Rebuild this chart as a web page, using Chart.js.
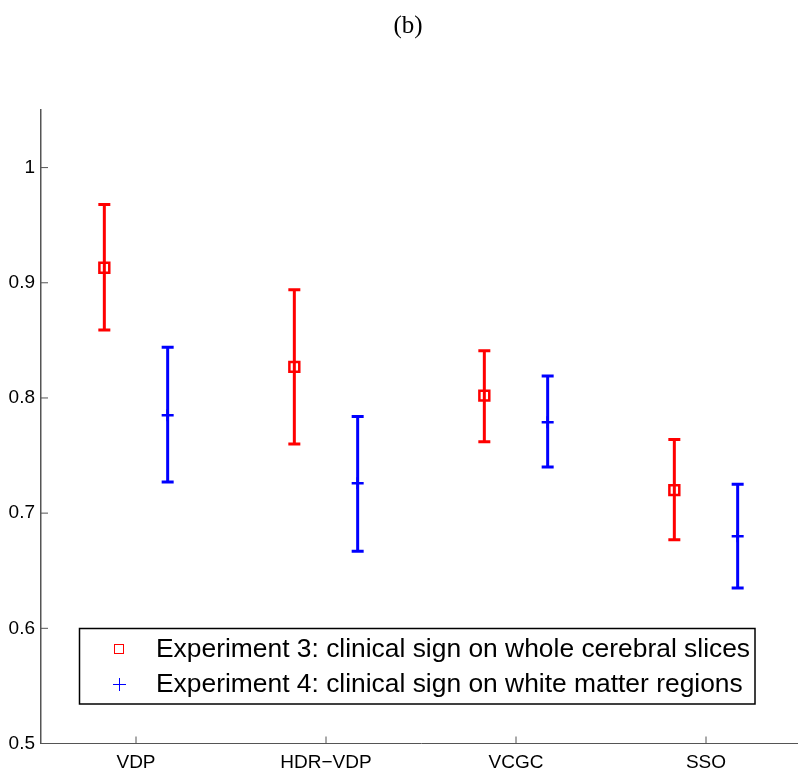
<!DOCTYPE html>
<html>
<head>
<meta charset="utf-8">
<script src="https://cdn.jsdelivr.net/npm/chart.js@4"></script>
<style>
    html, body { margin: 0; padding: 0; background: #fff; overflow: hidden; }
    #wrap { width: 801px; height: 771px; }
</style>
</head>
<body>
<div id="wrap"><canvas id="chart"></canvas></div>
<script>
// ---------------------------------------------
// DATA
// ---------------------------------------------
const metrics = ["VDP", "HDR\u2212VDP", "VCGC", "SSO"];
const yTickValues = [0.5, 0.6, 0.7, 0.8, 0.9, 1];

const exp3Label = "Experiment 3: clinical sign on whole cerebral slices";
const exp3Mean  = [0.913, 0.827, 0.802, 0.720];
const exp3Upper = [0.968, 0.894, 0.841, 0.764];
const exp3Lower = [0.859, 0.760, 0.762, 0.677];

const exp4Label = "Experiment 4: clinical sign on white matter regions";
const exp4Mean  = [0.785, 0.726, 0.779, 0.680];
const exp4Upper = [0.844, 0.784, 0.819, 0.725];
const exp4Lower = [0.727, 0.667, 0.740, 0.635];

// side-by-side shift of the two series around each category
const groupOffset = 1 / 6;

const RED = "#ff0000";
const BLUE = "#0000ff";
const AXIS = "#555";
const FONT = "'Liberation Sans', Arial, Helvetica, sans-serif";

function points(means, lows, highs, shift) {
    return means.map((m, i) => ({ x: i + 1 + shift, y: m, lo: lows[i], hi: highs[i] }));
}

// ---------------------------------------------
// PLUGINS: error bars, inward ticks, title, legend box
// ---------------------------------------------
const errorBars = {
    id: "errorBars",
    beforeDatasetsDraw(chart) {
        const { ctx, scales: { x, y } } = chart;
        chart.data.datasets.forEach(ds => {
            ctx.save();
            ctx.strokeStyle = ds.borderColor;
            ctx.lineWidth = 3;
            ds.data.forEach(p => {
                const px = x.getPixelForValue(p.x);
                const top = y.getPixelForValue(p.hi);
                const bot = y.getPixelForValue(p.lo);
                ctx.beginPath();
                ctx.moveTo(px, top);
                ctx.lineTo(px, bot);
                ctx.moveTo(px - 6, top);
                ctx.lineTo(px + 6, top);
                ctx.moveTo(px - 6, bot);
                ctx.lineTo(px + 6, bot);
                ctx.stroke();
            });
            ctx.restore();
        });
    }
};

const innerTicks = {
    id: "innerTicks",
    afterDraw(chart) {
        const { ctx, chartArea, scales: { x, y } } = chart;
        ctx.save();
        ctx.strokeStyle = AXIS;
        ctx.lineWidth = 1;
        ctx.beginPath();
        metrics.forEach((_, i) => {
            const px = x.getPixelForValue(i + 1);
            ctx.moveTo(px, chartArea.bottom);
            ctx.lineTo(px, chartArea.bottom - 7);
        });
        yTickValues.forEach(v => {
            const py = y.getPixelForValue(v);
            ctx.moveTo(chartArea.left, py);
            ctx.lineTo(chartArea.left + 7, py);
        });
        ctx.stroke();
        ctx.restore();
    }
};

const figTitle = {
    id: "figTitle",
    afterDraw(chart) {
        const ctx = chart.ctx;
        ctx.save();
        ctx.fillStyle = "#000";
        ctx.font = "25px 'Liberation Serif', 'Times New Roman', serif";
        ctx.textAlign = "center";
        ctx.textBaseline = "middle";
        ctx.fillText("(b)", 408, 26);
        ctx.restore();
    }
};

const boxLegend = {
    id: "boxLegend",
    afterDraw(chart) {
        const ctx = chart.ctx;
        ctx.save();
        ctx.fillStyle = "#fff";
        ctx.fillRect(79.5, 628.5, 675.5, 75.5);
        ctx.strokeStyle = "#000";
        ctx.lineWidth = 1.5;
        ctx.strokeRect(79.5, 628.5, 675.5, 75.5);

        // red square marker
        ctx.lineWidth = 1;
        ctx.strokeStyle = RED;
        ctx.strokeRect(114.5, 644.5, 9, 9);
        // blue plus marker
        ctx.strokeStyle = BLUE;
        ctx.beginPath();
        ctx.moveTo(113, 684.5);
        ctx.lineTo(126, 684.5);
        ctx.moveTo(119.5, 678);
        ctx.lineTo(119.5, 691);
        ctx.stroke();

        ctx.fillStyle = "#000";
        ctx.font = "26.4px " + FONT;
        ctx.textAlign = "left";
        ctx.textBaseline = "middle";
        ctx.fillText(exp3Label, 156, 650);
        ctx.fillText(exp4Label, 156, 685);
        ctx.restore();
    }
};

// ---------------------------------------------
// CHART
// ---------------------------------------------
function initChart() {
    const canvas = document.getElementById("chart");

    new Chart(canvas.getContext("2d"), {
        type: "scatter",
        data: {
            datasets: [
                {
                    label: exp3Label,
                    data: points(exp3Mean, exp3Lower, exp3Upper, -groupOffset),
                    borderColor: RED,
                    backgroundColor: "rgba(0,0,0,0)",
                    pointStyle: "rect",
                    pointRadius: 7,
                    borderWidth: 2.5
                },
                {
                    label: exp4Label,
                    data: points(exp4Mean, exp4Lower, exp4Upper, groupOffset),
                    borderColor: BLUE,
                    backgroundColor: BLUE,
                    pointStyle: "cross",
                    pointRadius: 6,
                    borderWidth: 2.5
                }
            ]
        },
        options: {
            responsive: true,
            maintainAspectRatio: false,
            animation: false,
            layout: {
                autoPadding: false,
                padding: { top: 110, right: 0, left: 0, bottom: 0 }
            },
            plugins: {
                legend: { display: false },
                tooltip: { enabled: false },
                title: { display: false }
            },
            scales: {
                x: {
                    type: "linear",
                    min: 0.5,
                    max: 4.5,
                    afterBuildTicks: s => { s.ticks = metrics.map((_, i) => ({ value: i + 1 })); },
                    afterFit: s => {
                        s.height = 27.5;
                        s.paddingLeft = 0;
                        s.paddingRight = 0;
                    },
                    grid: { display: false, drawTicks: false },
                    border: { display: true, color: AXIS, width: 1 },
                    ticks: {
                        padding: 8,
                        color: "#000",
                        font: { family: FONT, size: 19 },
                        callback: v => metrics[v - 1]
                    }
                },
                y: {
                    type: "linear",
                    min: 0.5,
                    max: 1.05,
                    afterBuildTicks: s => { s.ticks = yTickValues.map(v => ({ value: v })); },
                    afterFit: s => {
                        s.width = 41;
                        s.paddingTop = 0;
                        s.paddingBottom = 0;
                    },
                    grid: { display: false, drawTicks: false },
                    border: { display: true, color: AXIS, width: 1.5 },
                    ticks: {
                        padding: 6,
                        color: "#000",
                        font: { family: FONT, size: 19 },
                        callback: v => String(Math.round(v * 10) / 10)
                    }
                }
            }
        },
        plugins: [errorBars, innerTicks, figTitle, boxLegend]
    });
}

document.addEventListener("DOMContentLoaded", initChart);
</script>
</body>
</html>
